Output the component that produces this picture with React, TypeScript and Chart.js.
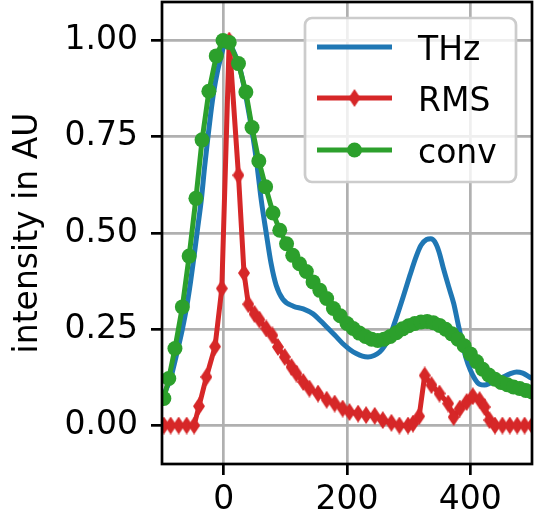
import React, { useEffect, useRef } from 'react';
import { Chart, registerables } from 'chart.js';

Chart.register(...registerables);

const seriesNames = ['THz', 'RMS', 'conv'];
const seriesColors = ['#1f77b4', '#d62728', '#2ca02c'];
const yTitle = 'intensity in AU';
const xTicks = [0, 200, 400];
const yTicks = [0, 0.25, 0.5, 0.75, 1.0];

const thzX = [-100, -93, -86, -80, -74, -67, -60, -54, -48, -42, -36, -31, -26, -21, -16, -10, -4, 0, 3, 7, 12, 18, 26, 33, 40, 47, 53, 61, 69, 77, 85, 96, 113, 129, 145, 157, 167, 180, 193, 205, 215, 225, 234, 244, 253, 261, 269, 280, 291, 302, 312, 320, 329, 336, 342, 349, 356, 365, 373, 380, 386, 393, 400, 407, 415, 423, 431, 442, 453, 464, 475, 485, 496, 500];
const thzY = [0.065, 0.095, 0.122, 0.16, 0.2, 0.25, 0.308, 0.37, 0.44, 0.515, 0.59, 0.67, 0.742, 0.81, 0.868, 0.92, 0.96, 0.985, 0.995, 0.995, 0.985, 0.965, 0.93, 0.88, 0.82, 0.755, 0.69, 0.585, 0.5, 0.42, 0.365, 0.328, 0.31, 0.303, 0.29, 0.272, 0.256, 0.235, 0.213, 0.197, 0.187, 0.18, 0.178, 0.182, 0.191, 0.207, 0.23, 0.28, 0.334, 0.39, 0.438, 0.468, 0.483, 0.485, 0.478, 0.452, 0.41, 0.36, 0.317, 0.265, 0.221, 0.175, 0.144, 0.122, 0.107, 0.105, 0.109, 0.119, 0.126, 0.134, 0.139, 0.136, 0.126, 0.122];

const rmsX = [-97, -86, -73, -60, -48, -40, -28, -14, -3, 9, 24, 33, 40, 50, 58, 69, 79, 88, 99, 110, 118, 129, 139, 153, 167, 180, 193, 204, 218, 231, 245, 258, 272, 285, 299, 307, 317, 326, 337, 350, 364, 373, 383, 394, 404, 415, 423, 431, 440, 452, 464, 476, 488, 500];
const rmsY = [0, 0, 0, 0, 0, 0.05, 0.126, 0.205, 0.356, 1.0, 0.65, 0.396, 0.315, 0.29, 0.275, 0.252, 0.234, 0.204, 0.178, 0.152, 0.135, 0.113, 0.096, 0.083, 0.067, 0.057, 0.044, 0.035, 0.031, 0.027, 0.025, 0.014, 0.007, 0, 0, 0.005, 0.024, 0.13, 0.105, 0.083, 0.057, 0.022, 0.044, 0.061, 0.076, 0.066, 0.048, 0.014, 0, 0, 0, 0, 0, 0];

const convX = [-97, -89, -79, -67, -56, -45, -35, -24, -12, -1, 9, 24, 36, 46, 57, 68, 80, 91, 102, 112, 123, 134, 145, 156, 167, 178, 189, 200, 210, 220, 230, 240, 250, 260, 270, 280, 290, 300, 310, 320, 330, 340, 350, 360, 370, 380, 390, 400, 410, 420, 430, 440, 450, 460, 470, 480, 490, 500];
const convY = [0.07, 0.122, 0.2, 0.308, 0.44, 0.59, 0.742, 0.868, 0.96, 1.0, 0.995, 0.94, 0.866, 0.774, 0.687, 0.62, 0.552, 0.507, 0.472, 0.442, 0.42, 0.4, 0.373, 0.351, 0.33, 0.304, 0.285, 0.265, 0.252, 0.24, 0.231, 0.224, 0.221, 0.224, 0.231, 0.241, 0.251, 0.259, 0.265, 0.269, 0.27, 0.267, 0.26, 0.25, 0.238, 0.224, 0.207, 0.186, 0.166, 0.146, 0.131, 0.12, 0.112, 0.106, 0.1, 0.096, 0.091, 0.087];

const FONT = "'DejaVu Sans', sans-serif";
const FS = 33;

function toPts(xs: number[], ys: number[]) {
  return xs.map((x, i) => ({ x, y: ys[i] }));
}

function makeThinDiamond(color: string, w: number, h: number) {
  const c = document.createElement('canvas');
  c.width = w;
  c.height = h;
  const ctx = c.getContext('2d')!;
  ctx.fillStyle = color;
  ctx.beginPath();
  ctx.moveTo(w / 2, 0);
  ctx.lineTo(w, h / 2);
  ctx.lineTo(w / 2, h);
  ctx.lineTo(0, h / 2);
  ctx.closePath();
  ctx.fill();
  return c;
}

export default function App() {
  const ref = useRef<HTMLCanvasElement | null>(null);

  useEffect(() => {
    if (!ref.current) return;
    const DW = 12, DH = 18, CR = 7.5;
    const diamond = makeThinDiamond(seriesColors[1], DW, DH);

    const framePlugin = {
      id: 'frameLegend',
      afterDraw(chart: any) {
        const { ctx, chartArea: a } = chart;
        ctx.save();
        ctx.strokeStyle = '#000';
        ctx.lineWidth = 2.7;
        ctx.strokeRect(a.left, a.top, a.right - a.left, a.bottom - a.top);
        ctx.fillStyle = '#000';
        ctx.font = `${FS}px ${FONT}`;
        ctx.save();
        ctx.translate(28, (a.top + a.bottom) / 2);
        ctx.rotate(-Math.PI / 2);
        ctx.textAlign = 'center';
        ctx.textBaseline = 'middle';
        ctx.fillText(yTitle, 0, 0);
        ctx.restore();
        const bx = 305, by = 18, bw = 211, bh = 164, r = 7;
        ctx.beginPath();
        ctx.moveTo(bx + r, by);
        ctx.lineTo(bx + bw - r, by);
        ctx.arcTo(bx + bw, by, bx + bw, by + r, r);
        ctx.lineTo(bx + bw, by + bh - r);
        ctx.arcTo(bx + bw, by + bh, bx + bw - r, by + bh, r);
        ctx.lineTo(bx + r, by + bh);
        ctx.arcTo(bx, by + bh, bx, by + bh - r, r);
        ctx.lineTo(bx, by + r);
        ctx.arcTo(bx, by, bx + r, by, r);
        ctx.closePath();
        ctx.fillStyle = 'rgba(255,255,255,0.8)';
        ctx.fill();
        ctx.strokeStyle = '#cccccc';
        ctx.lineWidth = 2.7;
        ctx.stroke();
        const rows = [47, 98, 150];
        rows.forEach((ry, i) => {
          ctx.strokeStyle = seriesColors[i];
          ctx.lineWidth = 5;
          ctx.beginPath();
          ctx.moveTo(317, ry);
          ctx.lineTo(392, ry);
          ctx.stroke();
          if (i === 1) {
            ctx.drawImage(diamond, 354.5 - DW / 2, ry - DH / 2);
          } else if (i === 2) {
            ctx.fillStyle = seriesColors[2];
            ctx.beginPath();
            ctx.arc(354.5, ry, CR, 0, Math.PI * 2);
            ctx.fill();
          }
          ctx.fillStyle = '#000';
          ctx.font = `${FS}px ${FONT}`;
          ctx.textAlign = 'left';
          ctx.textBaseline = 'alphabetic';
          ctx.fillText(seriesNames[i], 418, ry + 12.5);
        });
        ctx.restore();
      },
    };

    const chart = new Chart(ref.current, {
      type: 'line',
      data: {
        datasets: [
          {
            label: seriesNames[0],
            data: toPts(thzX, thzY),
            borderColor: seriesColors[0],
            backgroundColor: seriesColors[0],
            borderWidth: 5,
            pointRadius: 0,
            cubicInterpolationMode: 'monotone',
            clip: 0,
            order: 3,
          },
          {
            label: seriesNames[1],
            data: toPts(rmsX, rmsY),
            borderColor: seriesColors[1],
            backgroundColor: seriesColors[1],
            borderWidth: 5,
            pointRadius: 6,
            pointStyle: diamond as any,
            tension: 0,
            clip: 0,
            order: 2,
          },
          {
            label: seriesNames[2],
            data: toPts(convX, convY),
            borderColor: seriesColors[2],
            backgroundColor: seriesColors[2],
            borderWidth: 5,
            pointRadius: CR,
            pointBorderWidth: 0,
            pointStyle: 'circle',
            pointBackgroundColor: seriesColors[2],
            tension: 0,
            clip: 0,
            order: 1,
          },
        ],
      } as any,
      options: {
        responsive: false,
        animation: false,
        devicePixelRatio: 1,
        layout: { autoPadding: false, padding: { top: 2, right: 2, left: 0, bottom: 0 } },
        plugins: { legend: { display: false }, tooltip: { enabled: false } },
        scales: {
          x: {
            type: 'linear',
            min: -100,
            max: 500,
            afterBuildTicks: (s: any) => {
              s.ticks = xTicks.map((v) => ({ value: v }));
            },
            afterFit: (s: any) => {
              s.height = 56;
              s.paddingLeft = 0;
              s.paddingRight = 0;
            },
            grid: {
              color: '#b0b0b0',
              lineWidth: 2.7,
              tickColor: '#000',
              tickWidth: 2.7,
              tickLength: 11,
              drawTicks: true,
            },
            border: { display: false },
            ticks: {
              font: { family: FONT, size: FS },
              color: '#000',
              padding: 6,
              maxRotation: 0,
              autoSkip: false,
              callback: (v: any) => String(v),
            },
          },
          y: {
            type: 'linear',
            min: -0.1,
            max: 1.1,
            afterBuildTicks: (s: any) => {
              s.ticks = yTicks.map((v) => ({ value: v }));
            },
            afterFit: (s: any) => {
              s.width = 162;
              s.paddingTop = 0;
              s.paddingBottom = 0;
            },
            grid: {
              color: '#b0b0b0',
              lineWidth: 2.7,
              tickColor: '#000',
              tickWidth: 2.7,
              tickLength: 11,
              drawTicks: true,
            },
            border: { display: false },
            ticks: {
              font: { family: FONT, size: FS },
              color: '#000',
              padding: 13,
              autoSkip: false,
              callback: (v: any) => Number(v).toFixed(2),
            },
          },
        },
      } as any,
      plugins: [framePlugin],
    });
    return () => chart.destroy();
  }, []);

  return (
    <div style={{ position: 'fixed', left: 0, top: 0, width: 534, height: 520, background: '#fff' }}>
      <canvas ref={ref} width={534} height={520} style={{ display: 'block', width: 534, height: 520 }} />
    </div>
  );
}
